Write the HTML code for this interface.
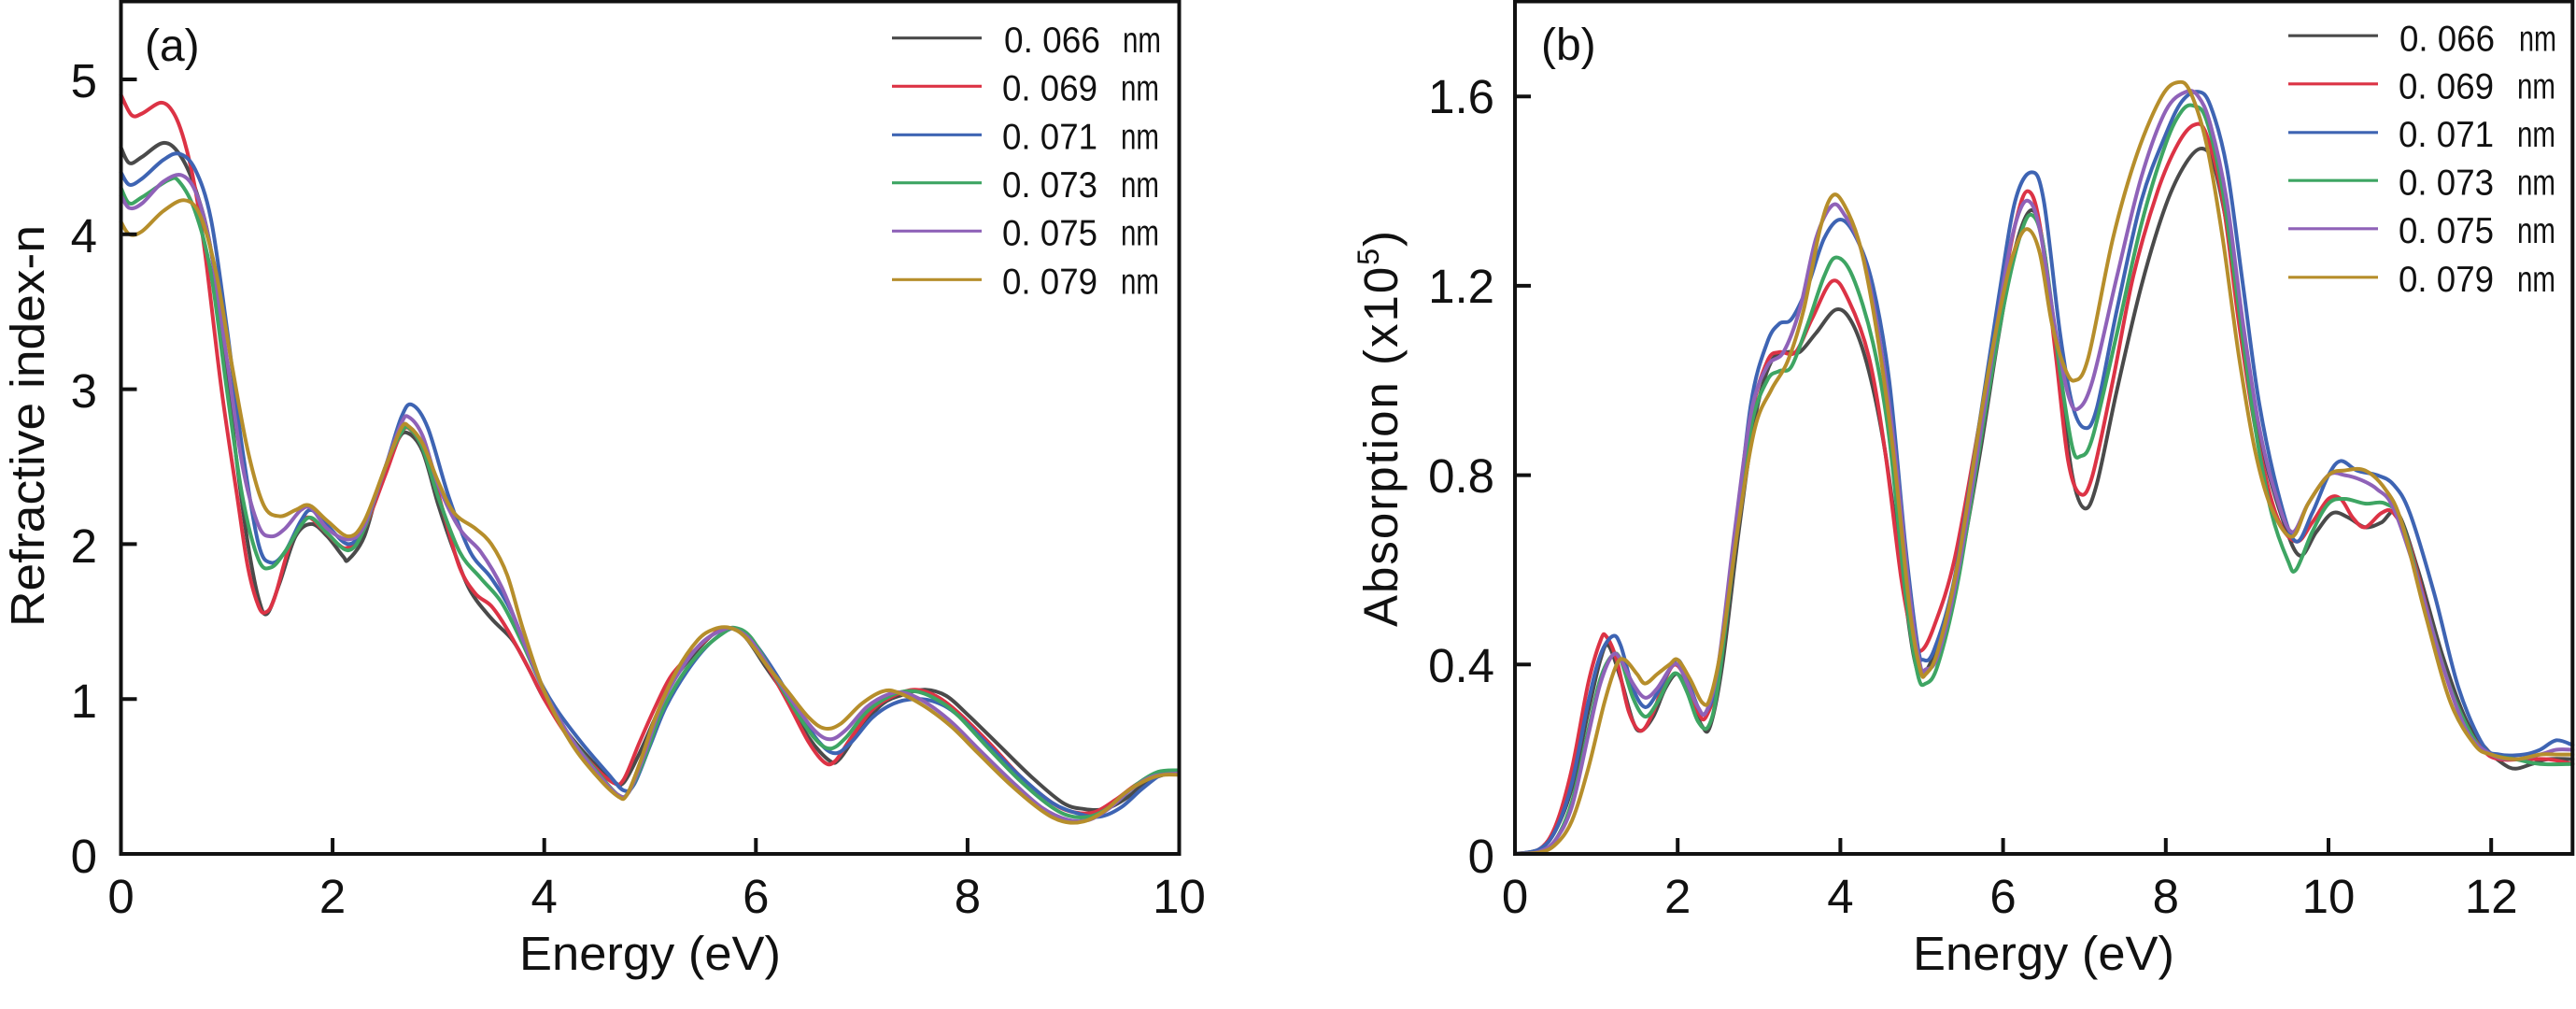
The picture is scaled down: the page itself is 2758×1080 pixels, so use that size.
<!DOCTYPE html>
<html><head><meta charset="utf-8"><style>
html,body{margin:0;padding:0;background:#fff;}
svg{display:block;}
text{font-family:"Liberation Sans","DejaVu Sans",sans-serif;fill:#111;}
.c{fill:none;stroke-width:4;stroke-linejoin:round;stroke-linecap:round;vector-effect:non-scaling-stroke;}
.k{stroke:#4a4a4a}.r{stroke:#dc3345}.b{stroke:#3e64b3}.g{stroke:#3ea563}.p{stroke:#8f62b8}.y{stroke:#b68e2b}
.ax{fill:none;stroke:#111;stroke-width:4;}
.tk{stroke:#111;stroke-width:4;}
.lg{stroke-width:3.2;}
</style></head><body>
<svg width="2758" height="1080" viewBox="0 0 2758 1080" xmlns="http://www.w3.org/2000/svg">
<rect width="2758" height="1080" fill="#fff"/>

<!-- ===== Panel (a) ===== -->
<g transform="translate(129.5,914) scale(113.3,-165.8)">
<polyline class="c k" points="0,4.56 0.08,4.46 0.2,4.5 0.4,4.59 0.55,4.52 0.7,4.3 0.85,3.9 1,3.1 1.1,2.5 1.2,2.0 1.3,1.65 1.38,1.55 1.5,1.75 1.65,2.05 1.8,2.13 1.95,2.05 2.1,1.92 2.15,1.9 2.3,2.05 2.45,2.4 2.6,2.65 2.7,2.72 2.85,2.6 3,2.25 3.15,1.95 3.3,1.7 3.5,1.52 3.7,1.38 3.85,1.2 4,1 4.2,0.8 4.45,0.6 4.65,0.47 4.75,0.46 4.9,0.65 5.05,0.88 5.2,1.1 5.4,1.28 5.6,1.42 5.75,1.46 5.9,1.4 6.1,1.2 6.3,1 6.5,0.75 6.7,0.6 6.8,0.62 7,0.82 7.2,0.97 7.4,1.03 7.6,1.06 7.8,1.02 8,0.9 8.3,0.7 8.6,0.5 8.9,0.33 9.1,0.29 9.3,0.29 9.5,0.36 9.7,0.47 9.9,0.52 10,0.53"/>
<polyline class="c r" points="0,4.9 0.1,4.77 0.2,4.78 0.38,4.85 0.5,4.78 0.6,4.6 0.7,4.3 0.8,3.85 0.95,3.0 1.1,2.3 1.2,1.85 1.3,1.6 1.37,1.56 1.45,1.65 1.6,2.0 1.75,2.17 1.9,2.1 2.05,2.0 2.15,1.98 2.3,2.1 2.5,2.45 2.65,2.72 2.75,2.73 2.9,2.55 3.05,2.2 3.2,1.85 3.35,1.68 3.5,1.6 3.65,1.45 3.85,1.2 4,1 4.2,0.78 4.45,0.58 4.65,0.46 4.75,0.48 4.9,0.72 5.05,0.95 5.2,1.15 5.4,1.3 5.6,1.42 5.75,1.46 5.9,1.4 6.1,1.22 6.3,0.98 6.5,0.72 6.65,0.59 6.75,0.6 6.9,0.75 7.1,0.93 7.3,1.02 7.5,1.06 7.7,1.02 7.9,0.92 8.2,0.72 8.5,0.5 8.8,0.33 9,0.27 9.2,0.27 9.4,0.35 9.6,0.45 9.8,0.51 10,0.52"/>
<polyline class="c b" points="0,4.4 0.08,4.32 0.2,4.36 0.4,4.48 0.55,4.52 0.7,4.42 0.85,4.1 1,3.4 1.15,2.6 1.3,2.0 1.42,1.88 1.55,1.95 1.7,2.15 1.8,2.22 1.95,2.12 2.15,2.0 2.3,2.12 2.5,2.5 2.65,2.82 2.75,2.9 2.9,2.75 3.1,2.3 3.3,1.95 3.5,1.78 3.7,1.55 3.9,1.2 4.1,0.95 4.35,0.72 4.6,0.52 4.75,0.41 4.85,0.45 5,0.7 5.15,0.95 5.35,1.18 5.55,1.35 5.75,1.45 5.85,1.44 6,1.35 6.2,1.15 6.4,0.92 6.6,0.72 6.75,0.65 6.9,0.72 7.1,0.88 7.3,0.97 7.5,1.0 7.7,0.98 7.9,0.9 8.2,0.7 8.5,0.5 8.8,0.33 9.05,0.26 9.25,0.24 9.45,0.3 9.65,0.42 9.85,0.52 10,0.52"/>
<polyline class="c g" points="0,4.3 0.08,4.2 0.2,4.24 0.45,4.35 0.55,4.34 0.7,4.15 0.85,3.75 1,3.0 1.15,2.3 1.3,1.9 1.42,1.85 1.55,1.95 1.7,2.12 1.8,2.17 1.95,2.07 2.15,1.96 2.3,2.1 2.5,2.5 2.65,2.72 2.72,2.75 2.85,2.62 3,2.3 3.2,1.95 3.4,1.78 3.6,1.62 3.8,1.35 4,1.05 4.25,0.75 4.5,0.53 4.7,0.38 4.8,0.4 4.95,0.62 5.1,0.9 5.3,1.15 5.5,1.32 5.7,1.43 5.8,1.46 5.95,1.4 6.15,1.18 6.35,0.95 6.55,0.75 6.7,0.68 6.85,0.75 7.05,0.92 7.3,1.03 7.5,1.05 7.7,1.0 7.9,0.9 8.2,0.68 8.5,0.47 8.8,0.3 9,0.24 9.2,0.25 9.4,0.33 9.6,0.45 9.8,0.53 10,0.54"/>
<polyline class="c p" points="0,4.25 0.08,4.17 0.2,4.2 0.4,4.34 0.58,4.38 0.72,4.25 0.85,3.9 1,3.2 1.15,2.5 1.3,2.12 1.42,2.05 1.55,2.1 1.7,2.22 1.8,2.23 1.95,2.1 2.15,2.03 2.3,2.12 2.5,2.5 2.65,2.78 2.72,2.82 2.85,2.7 3,2.38 3.2,2.1 3.4,1.95 3.6,1.72 3.8,1.38 4,1.05 4.25,0.75 4.5,0.52 4.7,0.38 4.8,0.4 4.95,0.65 5.1,0.95 5.3,1.2 5.5,1.37 5.7,1.45 5.8,1.45 5.95,1.38 6.15,1.18 6.35,0.98 6.55,0.8 6.7,0.74 6.85,0.8 7.05,0.95 7.25,1.03 7.4,1.04 7.6,0.98 7.85,0.85 8.1,0.68 8.4,0.48 8.7,0.3 8.95,0.22 9.15,0.22 9.35,0.3 9.55,0.42 9.75,0.5 10,0.52"/>
<polyline class="c y" points="0,4.08 0.08,4.0 0.2,4.02 0.4,4.15 0.6,4.22 0.75,4.12 0.9,3.75 1.05,3.15 1.2,2.6 1.35,2.25 1.5,2.18 1.65,2.22 1.78,2.25 1.95,2.15 2.15,2.05 2.3,2.15 2.5,2.5 2.65,2.75 2.72,2.76 2.85,2.65 3,2.4 3.15,2.2 3.35,2.1 3.5,2.0 3.65,1.8 3.8,1.45 4,1.05 4.25,0.72 4.5,0.5 4.7,0.37 4.78,0.38 4.9,0.58 5.05,0.88 5.25,1.18 5.45,1.38 5.6,1.45 5.75,1.46 5.9,1.4 6.1,1.22 6.3,1.05 6.5,0.88 6.65,0.81 6.8,0.84 7,0.97 7.2,1.05 7.35,1.04 7.6,0.95 7.85,0.82 8.1,0.65 8.4,0.45 8.7,0.28 8.9,0.21 9.1,0.21 9.3,0.28 9.5,0.4 9.7,0.48 9.85,0.51 10,0.51"/>
</g>
<rect class="ax" x="129.5" y="1.5" width="1133" height="912.5"/>
<g class="tk">
<line x1="356.1" y1="914" x2="356.1" y2="897"/><line x1="582.7" y1="914" x2="582.7" y2="897"/><line x1="809.3" y1="914" x2="809.3" y2="897"/><line x1="1035.9" y1="914" x2="1035.9" y2="897"/>
<line x1="129.5" y1="748.2" x2="146.5" y2="748.2"/><line x1="129.5" y1="582.4" x2="146.5" y2="582.4"/><line x1="129.5" y1="416.6" x2="146.5" y2="416.6"/><line x1="129.5" y1="250.8" x2="146.5" y2="250.8"/><line x1="129.5" y1="85" x2="146.5" y2="85"/>
</g>
<g font-size="51" text-anchor="end">
<text x="104" y="934">0</text><text x="104" y="768">1</text><text x="104" y="602">2</text><text x="104" y="436">3</text><text x="104" y="270">4</text><text x="104" y="104">5</text>
</g>
<g font-size="51" text-anchor="middle">
<text x="129.5" y="977">0</text><text x="356.1" y="977">2</text><text x="582.7" y="977">4</text><text x="809.3" y="977">6</text><text x="1035.9" y="977">8</text><text x="1262.5" y="977">10</text>
</g>
<text x="696" y="1038" font-size="51" text-anchor="middle" textLength="280" lengthAdjust="spacingAndGlyphs">Energy (eV)</text>
<text transform="translate(47,456) rotate(-90)" font-size="51" text-anchor="middle" textLength="430" lengthAdjust="spacingAndGlyphs">Refractive index-n</text>
<text x="155" y="65" font-size="48">(a)</text>

<!-- legend a -->
<g class="lg">
<line class="k" x1="955" y1="40.7" x2="1051" y2="40.7"/>
<line class="r" x1="955" y1="92.3" x2="1051" y2="92.3"/>
<line class="b" x1="955" y1="144.3" x2="1051" y2="144.3"/>
<line class="g" x1="955" y1="195.7" x2="1051" y2="195.7"/>
<line class="p" x1="955" y1="247.3" x2="1051" y2="247.3"/>
<line class="y" x1="955" y1="299.3" x2="1051" y2="299.3"/>
</g>
<g font-size="39">
<text x="1075" y="56" textLength="103" lengthAdjust="spacingAndGlyphs">0. 066</text><text x="1202" y="56" textLength="41" lengthAdjust="spacingAndGlyphs">nm</text>
<text x="1073" y="107.5" textLength="102" lengthAdjust="spacingAndGlyphs">0. 069</text><text x="1200" y="107.5" textLength="41" lengthAdjust="spacingAndGlyphs">nm</text>
<text x="1073" y="159.5" textLength="102" lengthAdjust="spacingAndGlyphs">0. 071</text><text x="1200" y="159.5" textLength="41" lengthAdjust="spacingAndGlyphs">nm</text>
<text x="1073" y="211" textLength="102" lengthAdjust="spacingAndGlyphs">0. 073</text><text x="1200" y="211" textLength="41" lengthAdjust="spacingAndGlyphs">nm</text>
<text x="1073" y="262.5" textLength="102" lengthAdjust="spacingAndGlyphs">0. 075</text><text x="1200" y="262.5" textLength="41" lengthAdjust="spacingAndGlyphs">nm</text>
<text x="1073" y="314.5" textLength="102" lengthAdjust="spacingAndGlyphs">0. 079</text><text x="1200" y="314.5" textLength="41" lengthAdjust="spacingAndGlyphs">nm</text>
</g>

<!-- ===== Panel (b) ===== -->
<g transform="translate(1622,914) scale(87.1,-506.7)">
<polyline class="c k" points="0,0 0.3,0.01 0.5,0.05 0.7,0.14 0.9,0.3 1.05,0.41 1.15,0.44 1.3,0.37 1.45,0.28 1.55,0.26 1.7,0.29 1.85,0.35 2,0.38 2.15,0.33 2.3,0.27 2.4,0.27 2.55,0.4 2.75,0.68 2.95,0.92 3.15,1.04 3.35,1.06 3.5,1.06 3.7,1.1 3.95,1.15 4.15,1.12 4.35,1.02 4.55,0.85 4.75,0.6 4.9,0.42 5,0.38 5.15,0.42 5.4,0.55 5.7,0.83 5.95,1.1 6.15,1.28 6.35,1.36 6.5,1.28 6.7,1.0 6.85,0.8 7,0.73 7.15,0.78 7.4,0.98 7.7,1.2 8,1.37 8.25,1.46 8.45,1.49 8.6,1.45 8.8,1.28 9,1.05 9.2,0.85 9.45,0.7 9.65,0.63 9.85,0.68 10.05,0.72 10.25,0.71 10.45,0.69 10.65,0.7 10.85,0.72 11.1,0.6 11.4,0.42 11.7,0.28 11.95,0.22 12.15,0.19 12.3,0.18 12.5,0.19 12.7,0.2 13,0.2"/>
<polyline class="c r" points="0,0 0.3,0.01 0.5,0.06 0.7,0.18 0.9,0.36 1.05,0.45 1.12,0.46 1.25,0.41 1.4,0.3 1.55,0.26 1.7,0.3 1.85,0.37 1.97,0.4 2.1,0.37 2.25,0.3 2.35,0.29 2.5,0.38 2.7,0.65 2.9,0.92 3.1,1.04 3.25,1.06 3.45,1.06 3.65,1.13 3.9,1.21 4.1,1.17 4.35,1.05 4.55,0.85 4.75,0.58 4.9,0.45 5,0.43 5.15,0.48 5.4,0.62 5.7,0.9 5.95,1.15 6.15,1.33 6.3,1.4 6.45,1.33 6.65,1.05 6.8,0.83 6.95,0.76 7.1,0.8 7.35,1.0 7.6,1.22 7.9,1.4 8.15,1.5 8.35,1.54 8.5,1.52 8.7,1.38 8.9,1.12 9.1,0.9 9.35,0.72 9.6,0.66 9.8,0.7 10,0.75 10.15,0.75 10.3,0.71 10.45,0.69 10.65,0.72 10.8,0.72 11,0.65 11.3,0.46 11.6,0.3 11.9,0.22 12.1,0.2 12.4,0.2 12.7,0.2 13,0.19"/>
<polyline class="c b" points="0,0 0.3,0.01 0.5,0.05 0.7,0.15 0.9,0.32 1.05,0.42 1.2,0.46 1.3,0.44 1.45,0.35 1.6,0.31 1.75,0.34 1.9,0.39 2,0.41 2.1,0.38 2.25,0.31 2.35,0.3 2.5,0.38 2.7,0.65 2.9,0.95 3.1,1.08 3.25,1.12 3.4,1.13 3.6,1.2 3.8,1.3 4,1.34 4.2,1.3 4.4,1.2 4.6,1.0 4.8,0.65 4.95,0.44 5.02,0.41 5.15,0.43 5.4,0.58 5.7,0.9 5.95,1.18 6.15,1.38 6.35,1.44 6.5,1.38 6.7,1.1 6.85,0.95 7,0.9 7.15,0.94 7.4,1.15 7.7,1.38 8,1.52 8.2,1.59 8.4,1.61 8.55,1.58 8.75,1.45 8.95,1.2 9.15,0.95 9.4,0.75 9.6,0.66 9.8,0.72 10,0.8 10.15,0.83 10.35,0.81 10.6,0.8 10.8,0.78 11,0.72 11.3,0.55 11.6,0.35 11.9,0.23 12.1,0.21 12.4,0.21 12.6,0.22 12.8,0.24 13,0.23"/>
<polyline class="c g" points="0,0 0.3,0.005 0.5,0.03 0.7,0.11 0.9,0.26 1.05,0.37 1.2,0.42 1.3,0.41 1.45,0.33 1.6,0.29 1.75,0.32 1.9,0.37 2,0.38 2.12,0.34 2.25,0.28 2.38,0.27 2.5,0.36 2.7,0.64 2.9,0.9 3.1,1.0 3.25,1.02 3.4,1.03 3.6,1.12 3.8,1.22 3.95,1.26 4.15,1.22 4.4,1.08 4.6,0.88 4.8,0.55 4.95,0.38 5.05,0.36 5.2,0.4 5.45,0.58 5.75,0.9 6,1.15 6.2,1.3 6.35,1.35 6.5,1.28 6.7,1.02 6.85,0.86 6.95,0.84 7.1,0.88 7.4,1.1 7.7,1.33 8,1.5 8.2,1.57 8.35,1.58 8.5,1.55 8.7,1.4 8.9,1.15 9.1,0.9 9.3,0.72 9.5,0.62 9.6,0.6 9.8,0.68 10,0.74 10.2,0.75 10.45,0.74 10.7,0.74 10.9,0.7 11.2,0.52 11.5,0.35 11.8,0.24 12,0.21 12.3,0.2 12.6,0.19 13,0.19"/>
<polyline class="c p" points="0,0 0.3,0.005 0.5,0.03 0.7,0.1 0.9,0.25 1.05,0.36 1.2,0.42 1.3,0.41 1.45,0.36 1.6,0.33 1.75,0.35 1.9,0.39 2,0.4 2.12,0.36 2.25,0.31 2.35,0.3 2.5,0.4 2.7,0.68 2.9,0.93 3.1,1.03 3.3,1.06 3.5,1.15 3.7,1.3 3.9,1.37 4.05,1.35 4.25,1.28 4.45,1.12 4.65,0.88 4.85,0.55 4.98,0.4 5.05,0.39 5.2,0.42 5.45,0.6 5.75,0.92 6,1.2 6.15,1.33 6.3,1.38 6.45,1.32 6.65,1.1 6.8,0.97 6.92,0.94 7.1,1.0 7.4,1.22 7.7,1.43 8,1.57 8.25,1.61 8.4,1.6 8.55,1.54 8.75,1.38 8.95,1.12 9.15,0.9 9.35,0.76 9.55,0.68 9.75,0.74 10,0.8 10.2,0.8 10.4,0.79 10.6,0.77 10.8,0.73 11.1,0.58 11.4,0.4 11.7,0.26 12,0.21 12.3,0.2 12.6,0.21 12.8,0.22 13,0.22"/>
<polyline class="c y" points="0,0 0.3,0.003 0.5,0.02 0.7,0.07 0.9,0.18 1.1,0.32 1.25,0.4 1.35,0.41 1.5,0.38 1.6,0.36 1.75,0.38 1.9,0.4 2,0.41 2.15,0.37 2.3,0.32 2.4,0.33 2.55,0.45 2.75,0.7 2.95,0.9 3.15,0.98 3.35,1.04 3.55,1.15 3.75,1.32 3.9,1.39 4.05,1.37 4.25,1.28 4.45,1.1 4.65,0.85 4.85,0.52 4.98,0.39 5.05,0.38 5.2,0.43 5.45,0.62 5.75,0.95 6,1.18 6.15,1.28 6.3,1.32 6.45,1.27 6.6,1.12 6.75,1.03 6.88,1.0 7.05,1.05 7.35,1.3 7.65,1.48 7.95,1.6 8.15,1.63 8.3,1.61 8.5,1.5 8.7,1.3 8.9,1.05 9.1,0.85 9.3,0.73 9.55,0.67 9.75,0.74 10,0.8 10.2,0.81 10.45,0.81 10.7,0.77 10.9,0.7 11.2,0.5 11.5,0.32 11.8,0.23 12,0.21 12.3,0.2 12.6,0.21 12.8,0.21 13,0.21"/>
</g>
<rect class="ax" x="1622" y="1.5" width="1132.3" height="912.5"/>
<g class="tk">
<line x1="1796.2" y1="914" x2="1796.2" y2="897"/><line x1="1970.4" y1="914" x2="1970.4" y2="897"/><line x1="2144.6" y1="914" x2="2144.6" y2="897"/><line x1="2318.8" y1="914" x2="2318.8" y2="897"/><line x1="2493" y1="914" x2="2493" y2="897"/><line x1="2667.2" y1="914" x2="2667.2" y2="897"/>
<line x1="1622" y1="711.3" x2="1639" y2="711.3"/><line x1="1622" y1="508.6" x2="1639" y2="508.6"/><line x1="1622" y1="305.9" x2="1639" y2="305.9"/><line x1="1622" y1="103.3" x2="1639" y2="103.3"/>
</g>
<g font-size="51" text-anchor="end">
<text x="1600" y="934">0</text><text x="1600" y="730">0.4</text><text x="1600" y="527">0.8</text><text x="1600" y="324">1.2</text><text x="1600" y="121">1.6</text>
</g>
<g font-size="51" text-anchor="middle">
<text x="1622" y="977">0</text><text x="1796.2" y="977">2</text><text x="1970.4" y="977">4</text><text x="2144.6" y="977">6</text><text x="2318.8" y="977">8</text><text x="2493" y="977">10</text><text x="2667.2" y="977">12</text>
</g>
<text x="2188" y="1038" font-size="51" text-anchor="middle" textLength="280" lengthAdjust="spacingAndGlyphs">Energy (eV)</text>
<text transform="translate(1496,458) rotate(-90)" font-size="51" text-anchor="middle" letter-spacing="2">Absorption (x10<tspan font-size="32" dy="-20">5</tspan><tspan dy="20">)</tspan></text>
<text x="1650" y="64" font-size="48">(b)</text>

<!-- legend b -->
<g class="lg">
<line class="k" x1="2450" y1="38.2" x2="2546" y2="38.2"/>
<line class="r" x1="2450" y1="89.8" x2="2546" y2="89.8"/>
<line class="b" x1="2450" y1="141.8" x2="2546" y2="141.8"/>
<line class="g" x1="2450" y1="193.2" x2="2546" y2="193.2"/>
<line class="p" x1="2450" y1="244.8" x2="2546" y2="244.8"/>
<line class="y" x1="2450" y1="296.8" x2="2546" y2="296.8"/>
</g>
<g font-size="39">
<text x="2569" y="54.5" textLength="102" lengthAdjust="spacingAndGlyphs">0. 066</text><text x="2697" y="54.5" textLength="40" lengthAdjust="spacingAndGlyphs">nm</text>
<text x="2568" y="105.5" textLength="102" lengthAdjust="spacingAndGlyphs">0. 069</text><text x="2695" y="105.5" textLength="41" lengthAdjust="spacingAndGlyphs">nm</text>
<text x="2568" y="157" textLength="102" lengthAdjust="spacingAndGlyphs">0. 071</text><text x="2695" y="157" textLength="41" lengthAdjust="spacingAndGlyphs">nm</text>
<text x="2568" y="208.5" textLength="102" lengthAdjust="spacingAndGlyphs">0. 073</text><text x="2695" y="208.5" textLength="41" lengthAdjust="spacingAndGlyphs">nm</text>
<text x="2568" y="260" textLength="102" lengthAdjust="spacingAndGlyphs">0. 075</text><text x="2695" y="260" textLength="41" lengthAdjust="spacingAndGlyphs">nm</text>
<text x="2568" y="312" textLength="102" lengthAdjust="spacingAndGlyphs">0. 079</text><text x="2695" y="312" textLength="41" lengthAdjust="spacingAndGlyphs">nm</text>
</g>
</svg>
<script>
(function(){
  var NS="http://www.w3.org/2000/svg";
  var pls=document.querySelectorAll("polyline.c");
  for(var k=0;k<pls.length;k++){
    var pl=pls[k];
    var pts=pl.getAttribute("points").trim().split(/\s+/).map(function(s){return s.split(",").map(Number);});
    var n=pts.length;
    var d="M"+pts[0][0]+","+pts[0][1];
    for(var i=0;i<n-1;i++){
      var p0=pts[i>0?i-1:i],p1=pts[i],p2=pts[i+1],p3=pts[i+2<n?i+2:i+1];
      var c1x=p1[0]+(p2[0]-p0[0])/6,c1y=p1[1]+(p2[1]-p0[1])/6;
      var c2x=p2[0]-(p3[0]-p1[0])/6,c2y=p2[1]-(p3[1]-p1[1])/6;
      d+=" C"+c1x.toFixed(4)+","+c1y.toFixed(4)+" "+c2x.toFixed(4)+","+c2y.toFixed(4)+" "+p2[0]+","+p2[1];
    }
    var path=document.createElementNS(NS,"path");
    path.setAttribute("d",d);
    path.setAttribute("class",pl.getAttribute("class"));
    pl.parentNode.replaceChild(path,pl);
  }
})();
</script>
</body></html>
